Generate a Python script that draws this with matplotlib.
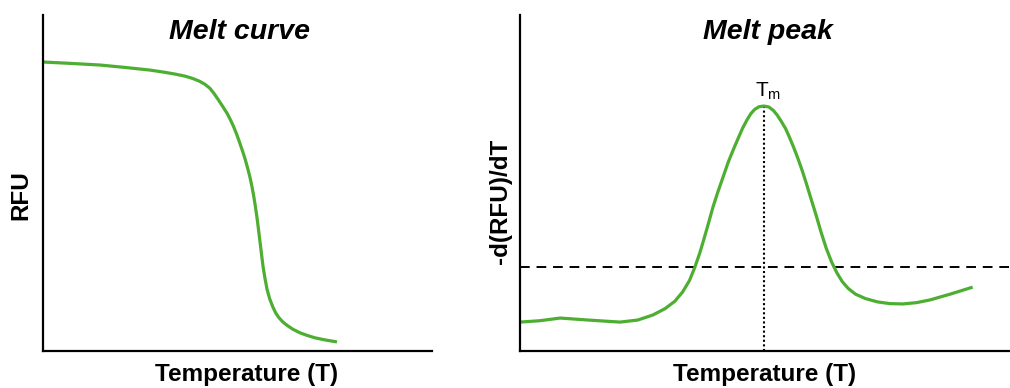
import numpy as np
import matplotlib
matplotlib.use("Agg")
import matplotlib.pyplot as plt

plt.rcParams['font.family'] = ['Liberation Sans', 'DejaVu Sans']

# melt curve: fluorescence vs temperature (arbitrary units, 0-100)
curve_temp = [0, 7.0, 14.7, 21.0, 27.5, 31.0, 34.0, 36.5, 38.5, 40.2, 41.6, 42.9, 44.0,
              45.0, 46.2, 47.3, 48.2, 49.0, 49.8, 50.6, 51.4, 52.0, 52.6, 53.2, 53.7,
              54.2, 54.6, 55.0, 55.4, 55.8, 56.2, 56.6, 57.1, 57.6, 58.3, 59.1, 59.8,
              60.6, 61.7, 62.8, 64.2, 66.1, 68.0, 70.0, 72.5, 75.6]
curve_rfu = [86.0, 85.6, 85.1, 84.4, 83.6, 83.0, 82.4, 81.8, 81.1, 80.3, 79.4, 78.2, 76.6,
             74.9, 72.8, 70.8, 68.8, 66.8, 64.5, 61.9, 59.2, 57.0, 54.5, 51.8, 49.1,
             46.0, 43.1, 39.9, 36.3, 32.5, 28.7, 25.0, 21.5, 18.4, 15.5, 13.1, 11.4,
             10.0, 8.6, 7.6, 6.5, 5.4, 4.6, 3.9, 3.3, 2.7]

# melt peak: negative derivative
peak_temp = [0, 4.0, 8.2, 14.0, 20.4, 24.0, 27.1, 29.6, 31.6, 33.2, 34.6, 35.7, 36.7,
             37.6, 38.5, 39.4, 40.4, 41.5, 42.5, 43.5, 44.5, 45.4, 46.3, 47.1, 47.9,
             48.8, 49.8, 50.8, 51.7, 52.5, 53.3, 54.2, 55.0, 55.8, 56.7, 57.6, 58.5,
             59.4, 60.4, 61.4, 62.5, 63.6, 64.7, 65.8, 67.0, 68.5, 70.5, 73.0, 75.5,
             78.2, 81.0, 83.7, 88.0, 92.4]
peak_val = [8.6, 9.0, 9.8, 9.2, 8.6, 9.2, 10.7, 12.6, 14.8, 17.6, 21.0, 25.0, 29.2,
            33.6, 38.2, 42.9, 47.4, 52.0, 56.2, 59.8, 63.2, 66.2, 68.7, 70.6, 71.9,
            72.7, 72.9, 72.6, 71.6, 70.2, 68.4, 66.2, 63.6, 60.8, 57.4, 53.7, 49.6,
            45.3, 40.6, 35.6, 30.6, 26.5, 23.2, 20.6, 18.6, 16.9, 15.6, 14.6, 14.1,
            14.0, 14.4, 15.2, 17.0, 19.0]
tm = 49.8
tm_height = 72.9
threshold = 25.0

green = '#4dae32'

fig = plt.figure(figsize=(10.10, 3.88), dpi=100)
ax1 = fig.add_axes([0.0426, 0.0954, 0.385, 0.866])
ax2 = fig.add_axes([0.5149, 0.0954, 0.485, 0.866])

for ax in (ax1, ax2):
    ax.set_xlim(0, 100)
    ax.set_ylim(0, 100)
    ax.set_xticks([])
    ax.set_yticks([])
    ax.spines['top'].set_visible(False)
    ax.spines['right'].set_visible(False)
    ax.spines['left'].set_linewidth(1.6)
    ax.spines['bottom'].set_linewidth(1.6)

ax1.plot(curve_temp, curve_rfu, color=green, linewidth=2.3, solid_capstyle='butt')

ax2.axhline(threshold, color='black', linestyle=(0, (5, 3.5)), linewidth=1.4)
ax2.vlines(tm, 0, tm_height, color='black', linestyle=(0, (1, 1.2)), linewidth=1.5)
ax2.plot(peak_temp, peak_val, color=green, linewidth=2.3, solid_capstyle='butt')
ax2.text(tm + 0.8, 74.0, r'T$_\mathregular{m}$', ha='center', va='bottom', fontsize=15)

title_kw = dict(fontsize=20.5, fontweight='bold', fontstyle='italic', ha='center', va='center')
fig.text(0.237, 0.918, 'Melt curve', **title_kw)
fig.text(0.760, 0.918, 'Melt peak', **title_kw)

label_kw = dict(fontsize=17.5, fontweight='bold', ha='center', va='center')
fig.text(0.244, 0.034, 'Temperature (T)', **label_kw)
fig.text(0.757, 0.034, 'Temperature (T)', **label_kw)
fig.text(0.021, 0.497, 'RFU', rotation=90, **label_kw)
fig.text(0.496, 0.480, '-d(RFU)/dT', rotation=90, **label_kw)

fig.savefig('out.png', dpi=100)
